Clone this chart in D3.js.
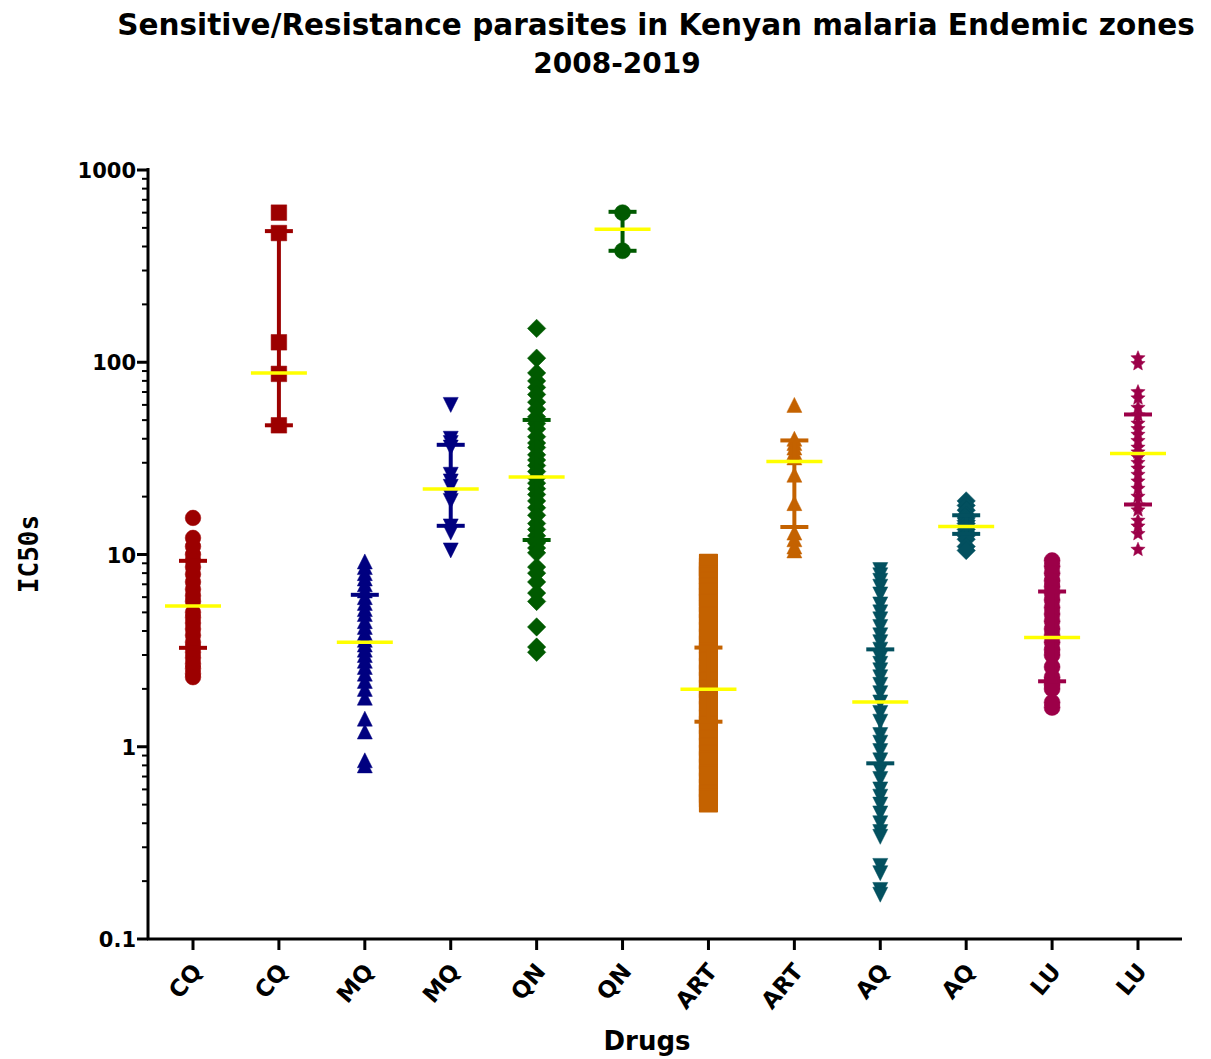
<!DOCTYPE html>
<html>
  <head>
    <title>IC50 scatter</title>
    <script src="https://d3js.org/d3.v7.min.js"></script>
    <style>
      body { margin: 0; background: white; }
      svg text { font-family: "DejaVu Sans", "Liberation Sans", Arial, sans-serif; font-weight: bold; }
    </style>
  </head>
  <body>
    <script>
      // drug groups, sensitive / resistant alternating
      const drugs = ['CQ', 'CQ', 'MQ', 'MQ', 'QN', 'QN', 'ART', 'ART', 'AQ', 'AQ', 'LU', 'LU'];

      const cqSens = [15.5, 12.2, 11, 10, 9.3, 8.6, 7.9, 7.2, 6.6, 6.1, 5.7, 5.0, 4.7, 4.4, 4.1, 3.8, 3.5, 3.3, 3.1, 2.9, 2.7, 2.55, 2.4, 2.3];
      const cqRes = [600, 470, 127, 87, 47];
      const mqSens = [9.2, 8.6, 8.0, 7.5, 7.0, 6.5, 6.0, 5.6, 5.2, 4.9, 4.5, 4.2, 3.9, 3.6, 3.4, 3.2, 3.0, 2.8, 2.6, 2.4, 2.2, 2.0, 1.8, 1.4, 1.2, 0.85, 0.8];
      const mqRes = [60, 40, 38, 36, 26, 24, 22.5, 20, 19, 14, 13, 10.5];
      const qnSens = [150, 105, 88, 80, 74, 68, 62, 57, 52, 48, 45, 41, 38, 36, 33, 31, 29, 27, 25, 23.5, 22, 20.5, 19, 17.5, 16, 14.5, 13.5, 12.5, 11.5, 10.8, 10.2, 8.6, 8.0, 7.2, 6.3, 5.7, 4.2, 3.3, 3.1];
      const qnRes = [600, 380];
      const artSens = [9.0, 8.6, 8.2, 7.8, 7.3, 6.8, 6.4, 6.0, 5.6, 5.2, 4.8, 4.4, 4.0, 3.7, 3.4, 3.1, 2.8, 2.6, 2.4, 2.2, 2.0, 1.85, 1.7, 1.55, 1.4, 1.3, 1.2, 1.1, 1.0, 0.92, 0.85, 0.78, 0.72, 0.66, 0.61, 0.57, 0.54, 0.51];
      const artRes = [60, 40, 38, 36, 34, 32, 26, 18.5, 13, 12, 11, 10.5];
      const aqSens = [8.3, 7.8, 7.3, 6.8, 6.2, 5.5, 5.0, 4.6, 4.2, 3.8, 3.5, 3.2, 2.9, 2.7, 2.5, 2.3, 2.1, 1.9, 1.7, 1.5, 1.35, 1.15, 1.05, 0.95, 0.85, 0.75, 0.68, 0.6, 0.55, 0.5, 0.45, 0.4, 0.36, 0.34, 0.24, 0.22, 0.18, 0.17];
      const aqRes = [19, 18, 17, 16, 15.5, 15, 14.5, 14, 13.5, 13, 12.5, 12, 11, 10.5];
      const luSens = [9.3, 8.7, 8.0, 7.3, 6.8, 6.3, 5.8, 5.3, 4.9, 4.5, 4.1, 3.8, 3.5, 3.2, 3.0, 2.6, 2.3, 2.2, 2.1, 2.0, 1.7, 1.6];
      const luRes = [105, 98, 70, 65, 58, 53, 48, 45, 42, 39, 36, 34, 32, 30, 28, 26, 24, 22, 20, 18, 17, 15, 14, 12.8, 10.6];

      const groups = [cqSens, cqRes, mqSens, mqRes, qnSens, qnRes, artSens, artRes, aqSens, aqRes, luSens, luRes];

      // median and interquartile range
      const medians = [5.4, 88, 3.5, 21.9, 25.3, 492, 1.99, 30.5, 1.71, 14.0, 3.7, 33.5];
      const q3 = [9.27, 481, 6.17, 37.2, 50.1, 606, 3.28, 39.2, 3.21, 16.0, 6.42, 53.5];
      const q1 = [3.27, 47, null, 14.1, 11.9, 380, 1.35, 13.9, 0.82, 12.8, 2.19, 18.2];

      const colors = ['#9c0000', '#9c0000', '#000080', '#000080', '#005a00', '#005a00',
                      '#c46200', '#c46200', '#03505f', '#03505f', '#9c0048', '#9c0048'];

      const W = 1211, H = 1059;
      const svg = d3.select('body').append('svg').attr('width', W).attr('height', H);

      const x = d3.scalePoint().domain(d3.range(drugs.length)).range([193, 1138]);
      const y = d3.scaleLog().domain([0.1, 1000]).range([939, 170]);

      // custom marker shapes
      const triUp = { draw(c, r) { c.moveTo(0, -r); c.lineTo(r, r); c.lineTo(-r, r); c.closePath(); } };
      const triDown = { draw(c, r) { c.moveTo(0, r); c.lineTo(r, -r); c.lineTo(-r, -r); c.closePath(); } };
      const diamond = { draw(c, r) { c.moveTo(0, -r); c.lineTo(r, 0); c.lineTo(0, r); c.lineTo(-r, 0); c.closePath(); } };
      const square = { draw(c, r) { c.rect(-r, -r, 2 * r, 2 * r); } };
      const circle = { draw(c, r) { c.moveTo(r, 0); c.arc(0, 0, r, 0, 2 * Math.PI); } };
      const star = { draw(c, r) {
        for (let k = 0; k < 10; k++) {
          const a = -Math.PI / 2 + k * Math.PI / 5, rr = k % 2 ? r * 0.45 : r;
          k ? c.lineTo(rr * Math.cos(a), rr * Math.sin(a)) : c.moveTo(rr * Math.cos(a), rr * Math.sin(a));
        }
        c.closePath();
      } };
      const shapes = [circle, square, triUp, triDown, diamond, circle, square, triUp, triDown, diamond, circle, star];
      const radii = [7.8, 7.8, 7.5, 7.5, 9.2, 8, 8.8, 7.5, 7.5, 9.2, 8, 7.5];

      // title
      svg.append('text').attr('x', 656).attr('y', 35).attr('text-anchor', 'middle')
         .style('font-size', '29.5px').text('Sensitive/Resistance parasites in Kenyan malaria Endemic zones');
      svg.append('text').attr('x', 617).attr('y', 73).attr('text-anchor', 'middle')
         .style('font-size', '28px').text('2008-2019');

      // y axis
      const yAxis = svg.append('g').attr('transform', 'translate(148,0)');
      yAxis.append('line').attr('y1', 168).attr('y2', 940).attr('stroke', 'black').attr('stroke-width', 3);
      const minor = [];
      [0.1, 1, 10, 100].forEach(d => { for (let k = 2; k < 10; k++) minor.push(d * k); });
      yAxis.selectAll('.minor').data(minor).enter().append('line')
           .attr('x1', -6).attr('x2', 0).attr('y1', d => y(d)).attr('y2', d => y(d))
           .attr('stroke', 'black').attr('stroke-width', 2);
      const majors = [0.1, 1, 10, 100, 1000];
      yAxis.selectAll('.major').data(majors).enter().append('line')
           .attr('x1', -11).attr('x2', 0).attr('y1', d => y(d)).attr('y2', d => y(d))
           .attr('stroke', 'black').attr('stroke-width', 3);
      yAxis.selectAll('.lab').data(majors).enter().append('text')
           .attr('x', -12).attr('y', d => y(d) + 8).attr('text-anchor', 'end')
           .style('font-size', '21px').text(d => d3.format('~g')(d));

      svg.append('text').attr('transform', 'translate(38,554) rotate(-90)').attr('text-anchor', 'middle')
         .style('font-family', '"DejaVu Sans Mono", monospace').style('font-size', '26px').text('IC50s');

      // x axis
      const xAxis = svg.append('g').attr('transform', 'translate(0,939)');
      xAxis.append('line').attr('x1', 147).attr('x2', 1182).attr('stroke', 'black').attr('stroke-width', 3);
      xAxis.selectAll('.tick').data(d3.range(drugs.length)).enter().append('line')
           .attr('x1', d => x(d)).attr('x2', d => x(d)).attr('y1', 0).attr('y2', 11)
           .attr('stroke', 'black').attr('stroke-width', 3);
      xAxis.selectAll('.lab').data(d3.range(drugs.length)).enter().append('text')
           .attr('transform', d => `translate(${x(d) + 10},${33}) rotate(-50)`)
           .attr('text-anchor', 'end').style('font-size', '23px').text(d => drugs[d]);
      svg.append('text').attr('x', 647).attr('y', 1050).attr('text-anchor', 'middle')
         .style('font-size', '26px').text('Drugs');

      // points
      groups.forEach((vals, i) => {
        svg.append('g').selectAll('path').data(vals).enter().append('path')
           .attr('d', d3.symbol().type(shapes[i]).size(radii[i]))
           .attr('transform', d => `translate(${x(i)},${y(d)})`)
           .attr('fill', colors[i])
           .attr('stroke', colors[i]).attr('stroke-width', i === 6 ? 1.5 : 0.5).attr('stroke-linejoin', 'round');
      });

      // error bars and medians
      d3.range(drugs.length).forEach(i => {
        const g = svg.append('g');
        const lo = q1[i] === null ? medians[i] : q1[i];
        g.append('line').attr('x1', x(i)).attr('x2', x(i)).attr('y1', y(q3[i])).attr('y2', y(lo))
         .attr('stroke', colors[i]).attr('stroke-width', 4);
        [q3[i], q1[i]].filter(v => v !== null).forEach(v => {
          g.append('line').attr('x1', x(i) - 14).attr('x2', x(i) + 14).attr('y1', y(v)).attr('y2', y(v))
           .attr('stroke', colors[i]).attr('stroke-width', 4);
        });
        g.append('line').attr('x1', x(i) - 28).attr('x2', x(i) + 28).attr('y1', y(medians[i])).attr('y2', y(medians[i]))
         .attr('stroke', '#ffff00').attr('stroke-width', 3.5);
      });
    </script>
  </body>
</html>
